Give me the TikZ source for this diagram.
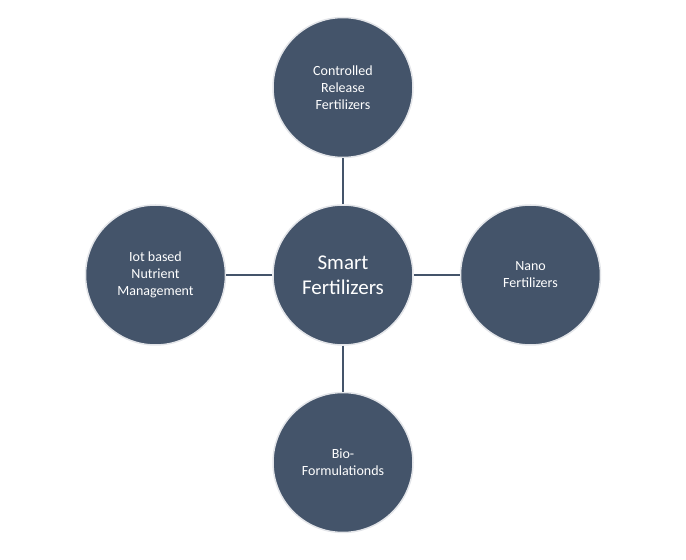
\documentclass[tikz,border=0pt]{standalone}
\usepackage{fontspec}
\setmainfont{Carlito}
\usetikzlibrary{positioning}
\definecolor{slate}{HTML}{44546A}
\begin{document}
\begin{tikzpicture}[x=1pt,y=1pt,node distance=46pt,
        hub/.style={circle, fill=slate, draw=white!85!slate, line width=1.5pt, minimum size=140pt, inner sep=2pt, align=center, text=white, font=\fontsize{14}{17}\selectfont},
        link/.style={draw=slate, line width=1.2pt}]
        \useasboundingbox (0,0) rectangle (686,560);

        \node[hub, font=\fontsize{21}{25}\selectfont]  (smart) at (343,285) {Smart\\Fertilizers};
        \node[hub]  (crf) [above=of smart] {Controlled\\Release\\Fertilizers};
        \node[hub]  (nano) [right=of smart] {Nano\\Fertilizers};
        \node[hub]  (bio) [below=of smart] {Bio-\\Formulationds};
        \node[hub]  (iot) [left=of smart] {Iot based\\Nutrient\\Management};

        \path[link]
          (smart) -- (crf)
          (smart) -- (nano)
          (smart) -- (bio)
          (smart) -- (iot);

      \end{tikzpicture}
\end{document}
